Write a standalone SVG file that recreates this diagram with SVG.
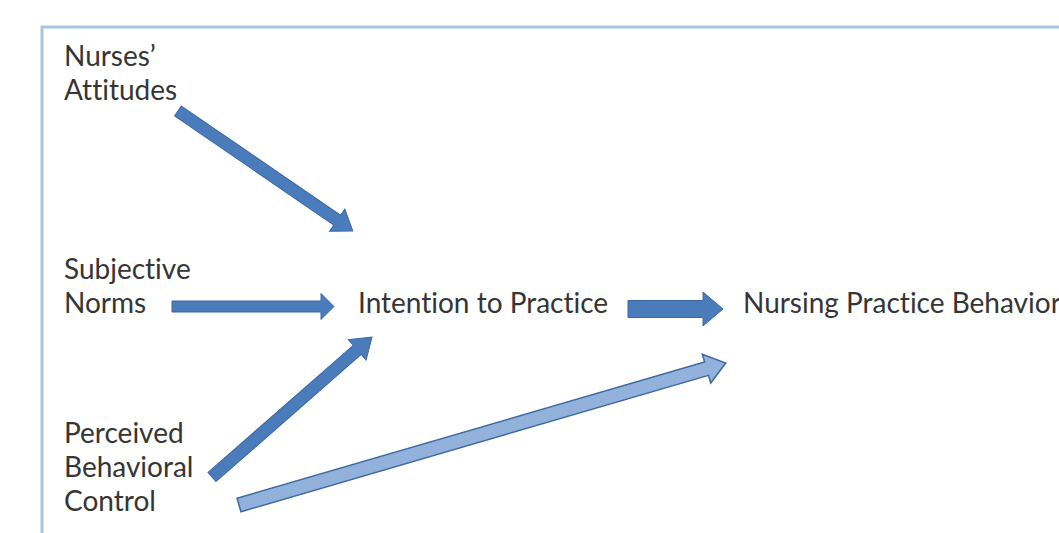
<svg xmlns="http://www.w3.org/2000/svg" width="1059" height="533" viewBox="0 0 1059 533">
<style>
.t{font-family:Lato,"Open Sans","Liberation Sans",sans-serif;font-size:28px;fill:#353535;font-variant-ligatures:none}
.a{fill:#4a7cbb;stroke:#3d69a3;stroke-width:1}
.b{fill:#93b2db;stroke:#3d69a3;stroke-width:1.5}
</style>
<rect x="0" y="0" width="1059" height="533" fill="#ffffff"/>
<path d="M42,540 L42,27 L1070,27" fill="none" stroke="#a9c3e0" stroke-width="3"/>
<g id="connectors">
<path class="a" transform="translate(178,111) rotate(34.44)" d="M0,-6 L193,-6 L193,-13.5 L212,0 L193,13.5 L193,6 L0,6 Z"/>
<path class="a" transform="translate(172,306.5)" d="M0,-5.5 L149,-5.5 L149,-13 L162,0 L149,13 L149,5.5 L0,5.5 Z"/>
<path class="a" transform="translate(628,309)" d="M0,-8.5 L75,-8.5 L75,-17 L95,0 L75,17 L75,8.5 L0,8.5 Z"/>
<path class="a" transform="translate(212,477) rotate(-41.19)" d="M0,-6 L193,-6 L193,-13.5 L212.6,0 L193,13.5 L193,6 L0,6 Z"/>
<path class="b" transform="translate(239,505) rotate(-16.26)" d="M0,-7 L487,-7 L487,-15 L507,0 L487,15 L487,7 L0,7 Z"/>
</g>
<g id="attitudes"><text class="t" x="64" y="66">Nurses’</text><text class="t" x="64" y="100">Attitudes</text></g>
<g id="norms"><text class="t" x="64" y="279">Subjective</text><text class="t" x="64" y="313">Norms</text></g>
<g id="pbc"><text class="t" x="64" y="443">Perceived</text><text class="t" x="64" y="477">Behavioral</text><text class="t" x="64" y="511">Control</text></g>
<g id="intention"><text class="t" x="358" y="313">Intention to Practice</text></g>
<g id="behavior"><text class="t" x="743" y="313">Nursing Practice Behaviors</text></g>
</svg>
